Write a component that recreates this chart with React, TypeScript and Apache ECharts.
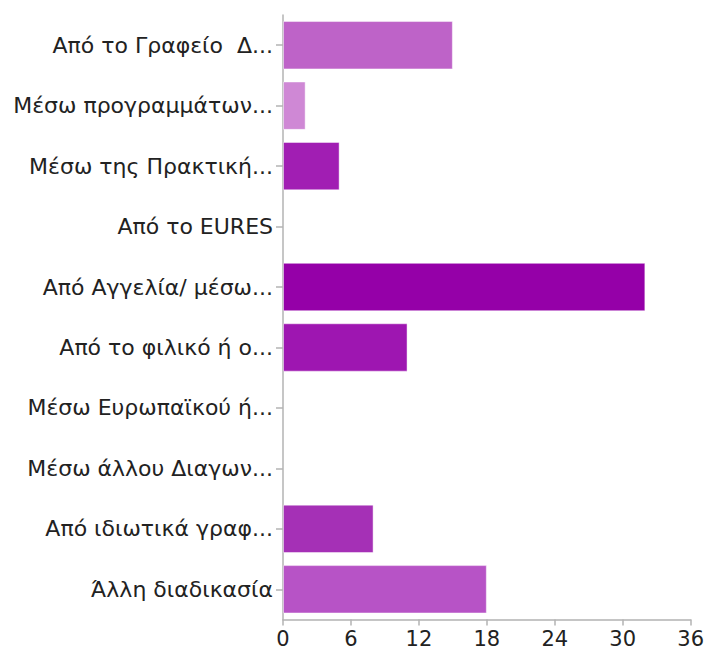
import React, { useEffect, useRef } from "react";
import * as echarts from "echarts";

const categories = [
  "Από το Γραφείο  Δ...",
  "Μέσω προγραμμάτων...",
  "Μέσω της Πρακτική...",
  "Από το EURES",
  "Από Αγγελία/ μέσω...",
  "Από το φιλικό ή ο...",
  "Μέσω Ευρωπαϊκού ή...",
  "Μέσω άλλου Διαγων...",
  "Από ιδιωτικά γραφ...",
  "Άλλη διαδικασία",
];
const values = [15, 2, 5, 0, 32, 11, 0, 0, 8, 18];
const barColors = [
  "#BE63C8",
  "#CF88D5",
  "#A11EB3",
  "#A11EB3",
  "#9500A8",
  "#9E16B1",
  "#A530B6",
  "#A530B6",
  "#A530B6",
  "#B753C6",
];
const xTicks = { min: 0, max: 36, interval: 6 };

export default function App() {
  const ref = useRef<HTMLDivElement>(null);
  useEffect(() => {
    document.body.style.margin = "0";
    const chart = echarts.init(ref.current!, null, { renderer: "svg" });
    const font = "'DejaVu Sans', sans-serif";
    chart.setOption({
      animation: false,
      backgroundColor: "#ffffff",
      grid: { left: 283, right: 15, top: 15, bottom: 31.5, containLabel: false },
      xAxis: {
        type: "value",
        min: xTicks.min,
        max: xTicks.max,
        interval: xTicks.interval,
        splitLine: { show: false },
        axisLine: { show: true, lineStyle: { color: "#b3b3b3", width: 1.5 } },
        axisTick: { show: true, length: 6, lineStyle: { color: "#b3b3b3", width: 1.5 } },
        axisLabel: { color: "#222", fontSize: 21, fontFamily: font, margin: 9 },
      },
      yAxis: {
        type: "category",
        inverse: true,
        data: categories,
        axisLine: { show: true, lineStyle: { color: "#b3b3b3", width: 1.5 } },
        axisTick: { show: true, alignWithLabel: true, length: 7, lineStyle: { color: "#b3b3b3", width: 1.5 } },
        axisLabel: { color: "#222", fontSize: 22, fontFamily: font, margin: 10 },
      },
      series: [
        {
          type: "bar",
          barCategoryGap: "20%",
          data: values.map((v, i) => ({
            value: v,
            itemStyle: {
              color: barColors[i],
              borderColor: "rgba(255,255,255,0.45)",
              borderWidth: v > 0 ? 1 : 0,
            },
          })),
        },
      ],
    });
    return () => chart.dispose();
  }, []);
  return <div ref={ref} style={{ width: 707, height: 651 }} />;
}
